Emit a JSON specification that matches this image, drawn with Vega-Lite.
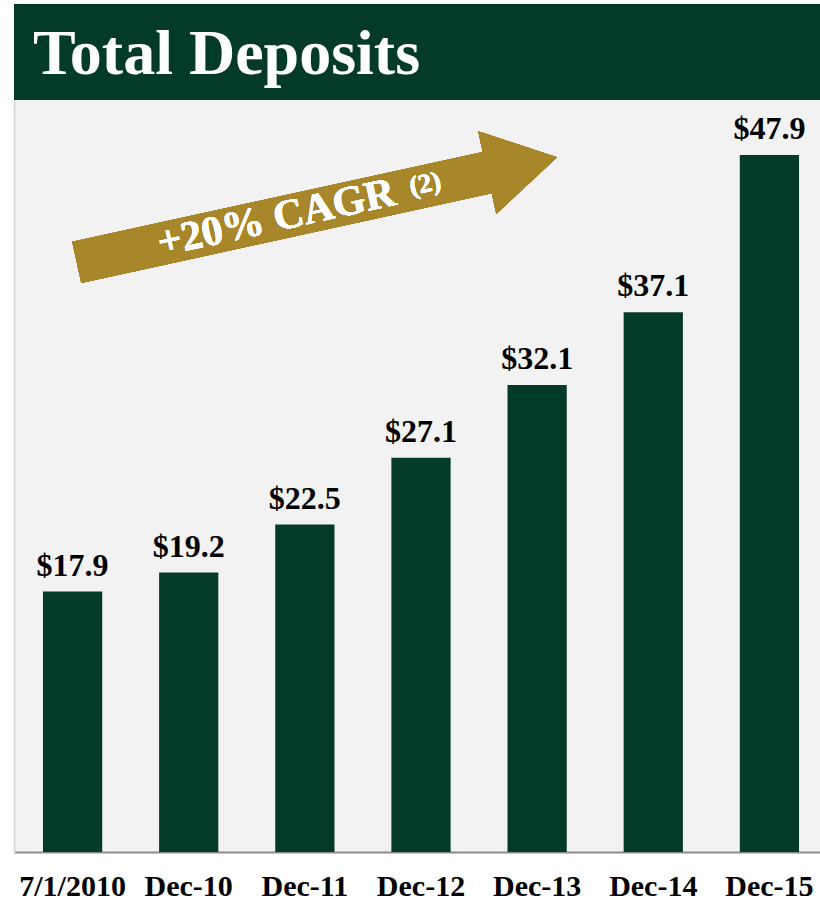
{
  "$schema": "https://vega.github.io/schema/vega-lite/v6.json",
  "background": "white",
  "padding": {"left": 14, "top": 4, "right": 0, "bottom": 0},
  "spacing": 0,
  "config": {"font": "Liberation Serif", "view": {"stroke": null}},
  "vconcat": [
    {
      "width": 806,
      "height": 96,
      "view": {"fill": "#043b28", "stroke": null},
      "data": {"values": [{"title": "Total Deposits"}]},
      "mark": {"type": "text", "align": "left", "baseline": "alphabetic", "font": "Liberation Serif", "fontWeight": "bold", "fontSize": 64, "color": "white", "dx": 19, "dy": -26},
      "encoding": {
        "text": {"field": "title"},
        "x": {"datum": 0, "type": "quantitative", "scale": {"domain": [0, 1]}, "axis": null},
        "y": {"datum": 0, "type": "quantitative", "scale": {"domain": [0, 1]}, "axis": null}
      }
    },
    {
      "width": 806,
      "height": 752,
      "view": {"fill": "#f2f2f2", "stroke": null},
      "data": {"values": [
        {"period": "7/1/2010", "deposits": 17.9},
        {"period": "Dec-10", "deposits": 19.2},
        {"period": "Dec-11", "deposits": 22.5},
        {"period": "Dec-12", "deposits": 27.1},
        {"period": "Dec-13", "deposits": 32.1},
        {"period": "Dec-14", "deposits": 37.1},
        {"period": "Dec-15", "deposits": 47.9}
      ]},
      "encoding": {
        "x": {
          "field": "period", "type": "nominal", "sort": null,
          "scale": {"paddingInner": 0.49, "paddingOuter": 0.215, "align": 0.58},
          "axis": {"title": null, "labelAngle": 0, "ticks": false, "labelPadding": 19, "labelFontSize": 30, "labelFontWeight": "bold", "labelColor": "black", "labelFont": "Liberation Serif", "domainColor": "#8c8c8c", "domainWidth": 2, "grid": false}
        }
      },
      "layer": [
        {
          "mark": {"type": "bar", "color": "#043b28"},
          "encoding": {
            "y": {"field": "deposits", "type": "quantitative", "scale": {"domain": [0, 51.68], "nice": false, "zero": true},
              "axis": {"orient": "left", "domain": true, "domainColor": "#d9d9d9", "domainWidth": 2, "labels": false, "ticks": false, "grid": false, "title": null}}
          }
        },
        {
          "mark": {"type": "text", "baseline": "alphabetic", "dy": -16, "fontSize": 32, "fontWeight": "bold", "font": "Liberation Serif", "color": "black"},
          "encoding": {
            "y": {"field": "deposits", "type": "quantitative"},
            "text": {"field": "deposits", "type": "quantitative", "format": "$.1f"}
          }
        },
        {
          "mark": {"type": "point", "filled": true, "opacity": 1, "strokeWidth": 0, "color": "#a8862a", "size": 360000, "angle": 347.66,
            "shape": "M-0.7783,-0.0705 L0.6223,-0.0705 L0.6223,-0.141 L0.8607,0 L0.6223,0.141 L0.6223,0.0705 L-0.7783,0.0705 Z"},
          "encoding": {
            "x": {"datum": "Dec-11"},
            "y": {"datum": 43.95, "type": "quantitative"}
          }
        },
        {
          "mark": {"type": "text", "align": "center", "baseline": "middle", "angle": 347.66, "dx": -29, "dy": -1, "fontSize": 42, "fontWeight": "bold", "font": "Liberation Serif", "color": "white"},
          "encoding": {
            "x": {"datum": "Dec-11"},
            "y": {"datum": 43.95, "type": "quantitative"},
            "text": {"value": "+20% CAGR"}
          }
        },
        {
          "mark": {"type": "text", "align": "center", "baseline": "middle", "angle": 347.66, "dx": 123.5, "dy": -2, "fontSize": 27, "fontWeight": "bold", "font": "Liberation Serif", "color": "white"},
          "encoding": {
            "x": {"datum": "Dec-11"},
            "y": {"datum": 43.95, "type": "quantitative"},
            "text": {"value": "(2)"}
          }
        }
      ]
    }
  ]
}
